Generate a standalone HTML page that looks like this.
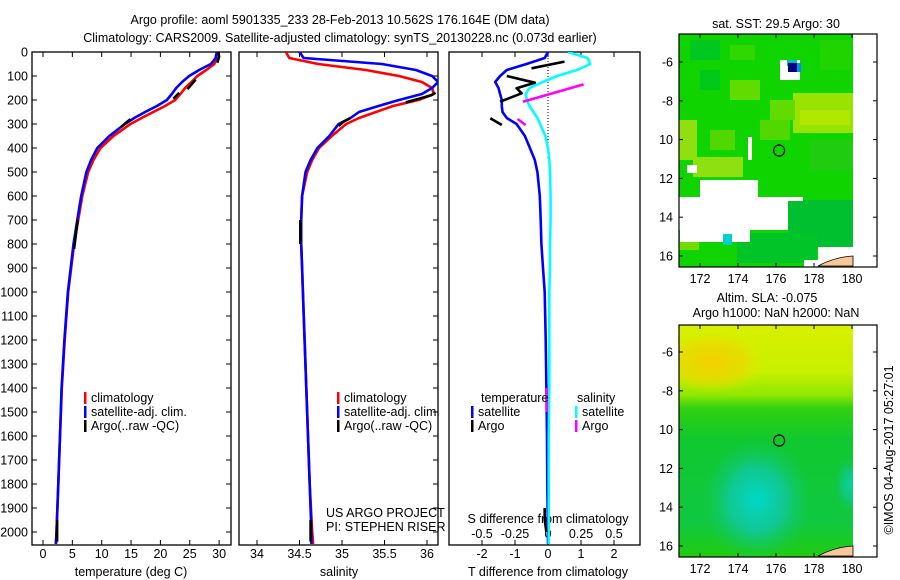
<!DOCTYPE html>
<html><head><meta charset="utf-8"><style>
body{margin:0;background:#fff;}
svg{display:block;font-family:"Liberation Sans",sans-serif;}
text{font-size:12.5px;fill:#000;}
</style></head><body>
<svg id="fig" width="900" height="580" viewBox="0 0 900 580" xmlns="http://www.w3.org/2000/svg">
<defs>
<clipPath id="c1"><rect x="32" y="52" width="199" height="493"/></clipPath>
<clipPath id="c2"><rect x="239" y="52" width="199" height="493"/></clipPath>
<clipPath id="c3"><rect x="449" y="52" width="191" height="493"/></clipPath>
<clipPath id="cm2"><rect x="679" y="325" width="174" height="232"/></clipPath>
<radialGradient id="cy" cx="0.5" cy="0.5" r="0.5"><stop offset="0" stop-color="#00d8c8"/><stop offset="0.5" stop-color="#10c8a8" stop-opacity="0.8"/><stop offset="1" stop-color="#10c860" stop-opacity="0"/></radialGradient>
<radialGradient id="or" cx="0.5" cy="0.5" r="0.5"><stop offset="0" stop-color="#f4d000"/><stop offset="0.6" stop-color="#ecd800" stop-opacity="0.7"/><stop offset="1" stop-color="#e0ec00" stop-opacity="0"/></radialGradient>
<linearGradient id="sla" x1="0" y1="0" x2="0" y2="1"><stop offset="0" stop-color="#d8f000"/><stop offset="0.2" stop-color="#c8f000"/><stop offset="0.3" stop-color="#90e800"/><stop offset="0.36" stop-color="#30d010"/><stop offset="0.5" stop-color="#10c830"/><stop offset="0.85" stop-color="#10c840"/><stop offset="1" stop-color="#20cc10"/></linearGradient>
</defs>
<text x="340" y="24" text-anchor="middle">Argo profile: aoml 5901335_233 28-Feb-2013 10.562S 176.164E (DM data)</text>
<text x="340" y="42" text-anchor="middle">Climatology: CARS2009. Satellite-adjusted climatology: synTS_20130228.nc (0.073d earlier)</text>
<g id="p1"></g>
<g id="p2"></g>
<g id="p3"></g>
<g id="m1"></g>
<g id="m2"></g>
<text transform="translate(893,450) rotate(-90)" text-anchor="middle">©IMOS 04-Aug-2017 05:27:01</text>
</svg>
<script>
// ---------- data ----------
const depth = [0,25,50,75,100,125,150,175,200,225,250,275,300,350,400,450,500,600,700,800,900,1000,1200,1400,1600,1800,2000,2050];
const tClim = [29.6,29.5,29.2,27.8,26.3,25.3,24.2,23.4,22.5,20.8,18.8,16.8,14.9,12.0,9.8,8.6,7.7,6.7,6.0,5.3,4.8,4.3,3.7,3.2,2.9,2.6,2.3,2.2];
const tSat = [29.6,29.4,28.6,26.6,24.9,23.7,22.7,21.95,21.1,19.4,17.4,15.55,13.95,11.3,9.25,8.2,7.4,6.5,5.85,5.2,4.72,4.25,3.65,3.17,2.9,2.6,2.3,2.2];
const sClim = [34.34,34.38,34.72,35.28,35.67,35.94,36.06,36.08,35.9,35.6,35.4,35.2,35.05,34.88,34.73,34.65,34.59,34.53,34.52,34.52,34.53,34.54,34.56,34.58,34.6,34.62,34.65,34.66];
const sSat = [34.5,34.55,35.47,35.87,36.06,36.13,36.06,35.94,35.67,35.43,35.2,35.1,34.96,34.85,34.71,34.63,34.57,34.53,34.52,34.52,34.53,34.54,34.56,34.58,34.6,34.62,34.64,34.64];
const argoTDepth = [0,20,45,null,115,135,155,null,170,185,195,null,280,295,313,null,700,760,820,null,1950,2000,2040];
const argoT = [29.9,30.0,29.7,null,26.0,25.3,24.6,null,23.2,22.6,22.2,null,14.9,14.1,13.3,null,5.9,5.6,5.3,null,2.4,2.4,2.4];
const argoSDepth = [170,180,190,200,210,null,275,290,308,null,700,750,800,null,1950,2000,2040];
const argoS = [36.1,36.05,35.95,35.85,35.75,null,35.1,35.02,34.96,null,34.51,34.51,34.51,null,34.63,34.63,34.63];
const tDiffSat = [0,-0.1,-0.65,-1.25,-1.45,-1.6,-1.5,-1.45,-1.4,-1.4,-1.38,-1.25,-0.95,-0.7,-0.55,-0.4,-0.32,-0.25,-0.22,-0.2,-0.15,-0.1,-0.07,-0.05,-0.03,-0.02,0,0];
const sDiffSat = [0.15,0.3,0.32,0.22,0.07,-0.04,-0.14,-0.17,-0.16,-0.14,-0.11,-0.08,-0.06,-0.02,0,0.01,0.015,0.02,0.02,0.015,0.015,0.01,0.01,0.01,0.005,0.005,0.005,0.005];
const tDiffArgoDepth = [40,68,null,100,128,151,172,207,null,276,304,null,1900,1950,2000];
const tDiffArgo = [0.5,-0.5,null,-1.25,-0.4,-0.95,-0.8,-1.45,null,-1.75,-1.4,null,-0.1,-0.1,-0.05];
const sDiffArgoDepth = [135,207,null,279,304,null,1400,1500];
const sDiffArgo = [0.27,-0.19,null,-0.23,-0.17,null,-0.01,-0.01];
const depthTicks = [0,100,200,300,400,500,600,700,800,900,1000,1100,1200,1300,1400,1500,1600,1700,1800,1900,2000];
const tempTicks = [0,5,10,15,20,25,30];
const salTicks = [34,34.5,35,35.5,36];
const salTickLabels = ["34","34.5","35","35.5","36"];
const tdTicks = [-2,-1,0,1,2];
const sdTicks = [-0.5,-0.25,0,0.25,0.5];
const sdTickLabels = ["-0.5","-0.25","0","0.25","0.5"];
const lonTicks = [172,174,176,178,180];
const latTicks = [-6,-8,-10,-12,-14,-16];
const latTickLabels = ["-6","-8","10","12","14","16"];

// ---------- axes ----------
const NS = "http://www.w3.org/2000/svg";
const yD = d => 52 + 0.24 * d;
const xT = t => 43 + 5.87 * t;
const xS = s => 257 + 85 * (s - 34);
const xTd = v => 548 + 33 * v;
const xSd = v => 548 + 132 * v;
function mk(tag, attrs, parent) {
  const e = document.createElementNS(NS, tag);
  for (const k in attrs) e.setAttribute(k, attrs[k]);
  parent.appendChild(e);
  return e;
}
function txt(parent, x, y, s, anchor) {
  const t = mk('text', {x: x, y: y, 'text-anchor': anchor || 'middle'}, parent);
  t.textContent = s;
  return t;
}
function pathFrom(ds, vs, xf) {
  let d = '', pen = false;
  for (let i = 0; i < ds.length; i++) {
    if (ds[i] === null || vs[i] === null) { pen = false; continue; }
    d += (pen ? 'L' : 'M') + xf(vs[i]).toFixed(1) + ' ' + yD(ds[i]).toFixed(1);
    pen = true;
  }
  return d;
}
function box(g, x0, x1) {
  const r = mk('rect', {x: x0, y: 52, width: x1 - x0, height: 493, fill: 'none', stroke: '#000', 'stroke-width': 1.3}, g);
  
  
}
function xTicks(g, vals, labels, xf, x0, x1, ly) {
  vals.forEach((v, i) => {
    const x = xf(v);
    mk('line', {x1: x, x2: x, y1: 545, y2: 540, stroke: '#000'}, g);
    mk('line', {x1: x, x2: x, y1: 52, y2: 57, stroke: '#000'}, g);
    const t = txt(g, x, ly, labels[i]);
    
    
  });
}
function line(g, clip, ds, vs, xf, color, name) {
  const p = mk('path', {d: pathFrom(ds, vs, xf), fill: 'none', stroke: color, 'stroke-width': 2.6, 'clip-path': 'url(#' + clip + ')', 'stroke-linejoin': 'round'}, g);
  
  
}
function legendEntry(g, x, y, color, label) {
  mk('rect', {x: x, y: y - 10, width: 2.5, height: 12, fill: color}, g);
  const t = txt(g, x + 7, y, label, 'start');
  
  
}

// Panel 1 : temperature
const p1 = document.getElementById('p1');
box(p1, 32, 231);
depthTicks.forEach(d => {
  mk('line', {x1: 32, x2: 37, y1: yD(d), y2: yD(d), stroke: '#000'}, p1);
  mk('line', {x1: 226, x2: 231, y1: yD(d), y2: yD(d), stroke: '#000'}, p1);
  const t = txt(p1, 28, yD(d) + 4.5, String(d), 'end');
  
  
});
xTicks(p1, tempTicks, tempTicks.map(String), xT, 32, 231, 558);
txt(p1, 131, 576, 'temperature (deg C)');
line(p1, 'c1', depth, tClim, xT, '#ff0000', 'temperature-climatology-line');
line(p1, 'c1', depth, tSat, xT, '#0000ff', 'temperature-satellite-line');
line(p1, 'c1', argoTDepth, argoT, xT, '#000000', 'temperature-argo-line');
legendEntry(p1, 84, 402, '#ff0000', 'climatology');
legendEntry(p1, 84, 416, '#0000ff', 'satellite-adj. clim.');
legendEntry(p1, 84, 430, '#000000', 'Argo(..raw -QC)');

// Panel 2 : salinity
const p2 = document.getElementById('p2');
box(p2, 239, 438);
depthTicks.forEach(d => {
  mk('line', {x1: 433, x2: 438, y1: yD(d), y2: yD(d), stroke: '#000'}, p2);
});
xTicks(p2, salTicks, salTickLabels, xS, 239, 438, 558);
txt(p2, 339, 576, 'salinity');
line(p2, 'c2', depth, sClim, xS, '#ff0000', 'salinity-climatology-line');
line(p2, 'c2', depth, sSat, xS, '#0000ff', 'salinity-satellite-line');
line(p2, 'c2', argoSDepth, argoS, xS, '#000000', 'salinity-argo-line');
legendEntry(p2, 337, 402, '#ff0000', 'climatology');
legendEntry(p2, 337, 416, '#0000ff', 'satellite-adj. clim.');
legendEntry(p2, 337, 430, '#000000', 'Argo(..raw -QC)');
txt(p2, 326, 517, 'US ARGO PROJECT', 'start');
txt(p2, 326, 531, 'PI: STEPHEN RISER', 'start');

// Panel 3 : differences
const p3 = document.getElementById('p3');
box(p3, 449, 640);
xTicks(p3, tdTicks, tdTicks.map(String), xTd, 449, 640, 558);
sdTicks.forEach((v, i) => {
  const t = txt(p3, xSd(v), 538, sdTickLabels[i]);
  
  
});
txt(p3, 548, 523, 'S difference from climatology');
txt(p3, 548, 576, 'T difference from climatology');
mk('line', {x1: 548, x2: 548, y1: 55, y2: 160, stroke: '#000', 'stroke-dasharray': '1 2'}, p3);
line(p3, 'c3', depth, tDiffSat, xTd, '#0000ff', 'tdiff-satellite-line');
line(p3, 'c3', depth, sDiffSat, xSd, '#00ffff', 'sdiff-satellite-line');
line(p3, 'c3', tDiffArgoDepth, tDiffArgo, xTd, '#000000', 'tdiff-argo-line');
line(p3, 'c3', sDiffArgoDepth, sDiffArgo, xSd, '#ff00ff', 'sdiff-argo-line');
txt(p3, 481, 402, 'temperature', 'start');
legendEntry(p3, 471, 416, '#0000ff', 'satellite');
legendEntry(p3, 471, 430, '#000000', 'Argo');
txt(p3, 577, 402, 'salinity', 'start');
legendEntry(p3, 575, 416, '#00ffff', 'satellite');
legendEntry(p3, 575, 430, '#ff00ff', 'Argo');

// ---------- maps ----------
function mapAxes(g, top, bottom, lat6) {
  const xL = lon => 700 + 19 * (lon - 172);
  const yL = lat => lat6 + (-6 - lat) * 19.4;
  mk('rect', {x: 679, y: top, width: 198, height: bottom - top, fill: 'none', stroke: '#000', 'stroke-width': 1.2}, g);
  lonTicks.forEach(l => {
    mk('line', {x1: xL(l), x2: xL(l), y1: bottom, y2: bottom - 4, stroke: '#000'}, g);
    mk('line', {x1: xL(l), x2: xL(l), y1: top, y2: top + 4, stroke: '#000'}, g);
    txt(g, xL(l), bottom + 16, String(l));
  });
  latTicks.forEach((l, i) => {
    mk('line', {x1: 679, x2: 683, y1: yL(l), y2: yL(l), stroke: '#000'}, g);
    mk('line', {x1: 873, x2: 877, y1: yL(l), y2: yL(l), stroke: '#000'}, g);
    txt(g, 673, yL(l) + 4.5, latTickLabels[i], 'end');
  });
  const c = mk('circle', {cx: xL(176.164), cy: yL(-10.562), r: 5.5, fill: 'none', stroke: '#000', 'stroke-width': 1.2}, g);
  
  
  mk('path', {d: 'M818 ' + (bottom - 1) + ' Q835 ' + (bottom - 10) + ' 853 ' + (bottom - 11) + ' L853 ' + (bottom - 1) + ' Z', fill: '#f8c898', stroke: '#000', 'stroke-width': 0.8}, g);
}
const m1 = document.getElementById('m1');
txt(m1, 776, 28, 'sat. SST: 29.5 Argo: 30');
[
 [679,34,174,233,'#10d400'],
 [690,40,30,20,'#00c820'],[730,45,25,15,'#30d800'],[700,70,20,20,'#00c818'],[820,40,30,30,'#20d400'],
 [793,93,60,40,'#98e400'],[800,110,50,15,'#b0e800'],[770,100,25,20,'#60dc00'],
 [679,120,18,40,'#90e010'],[693,157,50,20,'#8ee010'],
 [730,80,30,20,'#60dc00'],[760,120,30,20,'#50d800'],[710,130,25,20,'#50d800'],
 [810,140,43,30,'#20cc10'],
 [788,200,65,47,'#00c030'],[737,233,80,30,'#00c428'],
 [679,230,20,20,'#70dc00'],
 [679,197,109,33,'#ffffff'],[700,180,58,17,'#ffffff'],[680,230,70,12,'#ffffff'],[788,197,15,4,'#ffffff'],
 [748,137,4,23,'#ffffff'],[687,165,10,8,'#ffffff'],[818,247,35,20,'#ffffff'],[804,260,14,7,'#ffffff'],
 [780,60,20,20,'#ffffff'],[787,60,10,6,'#00c0c0'],[788,63,9,9,'#000080'],[797,63,4,9,'#0090f0'],
 [723,234,9,11,'#00d0d0']
].forEach(r => mk('rect', {x: r[0], y: r[1], width: r[2], height: r[3], fill: r[4]}, m1));
mapAxes(m1, 34, 267, 62);

const m2 = document.getElementById('m2');
txt(m2, 767, 302, 'Altim. SLA: -0.075');
txt(m2, 776, 317, 'Argo h1000: NaN h2000: NaN');
const m2f = mk('g', {'clip-path': 'url(#cm2)'}, m2);
mk('rect', {x: 679, y: 325, width: 174, height: 232, fill: 'url(#sla)'}, m2f);
mk('ellipse', {cx: 712, cy: 362, rx: 55, ry: 32, fill: 'url(#or)'}, m2f);
mk('ellipse', {cx: 757, cy: 500, rx: 55, ry: 62, fill: 'url(#cy)'}, m2f);
mk('ellipse', {cx: 850, cy: 485, rx: 16, ry: 28, fill: 'url(#cy)', opacity: 0.7}, m2f);
mapAxes(m2, 325, 557, 352);
</script>
</body></html>
